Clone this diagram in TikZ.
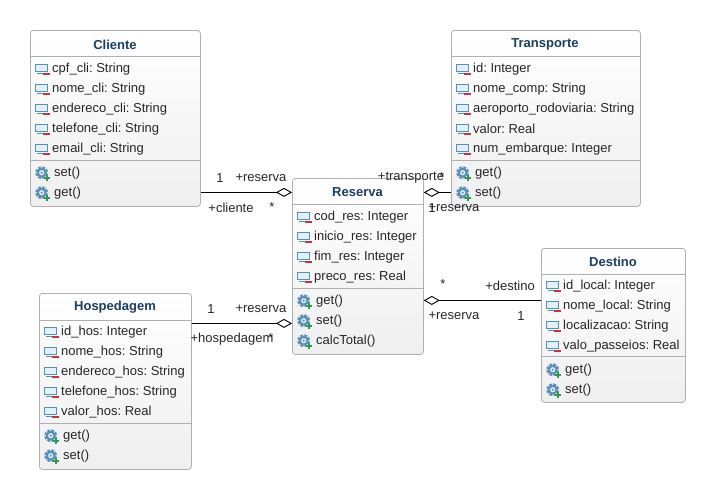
\documentclass[tikz,border=0pt]{standalone}
\usepackage{fontspec}
\setmainfont{Liberation Sans}
\frenchspacing
\usetikzlibrary{arrows.meta,calc}
\definecolor{titleblue}{HTML}{1B3F5F}
\definecolor{boxedge}{HTML}{B0B0B0}
\definecolor{boxlow}{HTML}{EFEFEF}
\definecolor{iconblue}{HTML}{4F93B8}
\definecolor{iconfill}{HTML}{E4F0F7}
\definecolor{minusred}{HTML}{C8323C}
\definecolor{plusgreen}{HTML}{2E9A4E}
\definecolor{geardark}{HTML}{5A8FB8}
\tikzset{
  umlbox/.style={draw=boxedge,line width=0.8pt,rounded corners=3pt,top color=white,bottom color=boxlow,inner sep=0pt,anchor=north west},
  sepline/.style={draw=boxedge,line width=0.8pt},
  titletext/.style={font=\fontsize{13}{13}\selectfont\bfseries,text=titleblue},
  rowtext/.style={font=\fontsize{13}{13}\selectfont,text=black!85,anchor=west,inner sep=0pt},
  assoc/.style={line width=1pt,-{Diamond[open,length=16pt,width=9pt,line width=0.9pt]}},
  rolelabel/.style={font=\fontsize{13}{13}\selectfont,text=black!85,inner sep=0pt},
}
\newcommand{\attrrow}[3]{%
  \draw[iconblue,fill=iconfill,line width=1pt] (#1+2.5,#2-4) rectangle (#1+14.5,#2+3.5);
  \draw[iconblue,line width=1pt] (#1+4,#2+5.2) -- (#1+15,#2+5.2);
  \fill[minusred] (#1+9.5,#2+5) rectangle (#1+17,#2+7.2);
  \node[rowtext] at (#1+19,#2+1) {#3};
}
\newcommand{\methrow}[3]{%
  \fill[geardark] (#1+8.7,#2+0.7) circle (6.4);
  \foreach \a in {0,45,...,315} {\fill[iconfill] (#1+8.7,#2+0.7) ++(\a:5.7) circle (1);}
  \fill[iconfill] (#1+8.7,#2+0.7) circle (2.6);
  \fill[geardark] (#1+8.7,#2+0.7) circle (1.2);
  \fill[plusgreen] (#1+10.5,#2+5) rectangle (#1+17,#2+7.2);
  \fill[plusgreen] (#1+12.65,#2+2.8) rectangle (#1+14.85,#2+9.4);
  \node[rowtext] at (#1+21,#2+1) {#3};
}
\begin{document}
\begin{tikzpicture}[x=1pt,y=-1pt]
\useasboundingbox (0,0) rectangle (715,499);
% Cliente
\node[umlbox,minimum width=170pt,minimum height=176pt] (cliente) at (30,30) {};
\node[titletext] (tcli) at (115,44.5) {Cliente};
\draw[sepline] (30,56) -- (200,56) (30,160) -- (200,160);
\attrrow{33}{68}{cpf\_cli: String}
\attrrow{33}{88}{nome\_cli: String}
\attrrow{33}{108}{endereco\_cli: String}
\attrrow{33}{128}{telefone\_cli: String}
\attrrow{33}{148}{email\_cli: String}
\methrow{33}{172}{set()}
\methrow{33}{192}{get()}
% Transporte
\node[umlbox,minimum width=189pt,minimum height=176pt] (transporte) at (451,30) {};
\node[titletext] (ttra) at (545,44.5) {Transporte};
\draw[sepline] (451,56) -- (640,56) (451,160) -- (640,160);
\attrrow{454}{68}{id: Integer}
\attrrow{454}{88}{nome\_comp: String}
\attrrow{454}{108}{aeroporto\_rodoviaria: String}
\attrrow{454}{128}{valor: Real}
\attrrow{454}{148}{num\_embarque: Integer}
\methrow{454}{172}{get()}
\methrow{454}{192}{set()}
% Reserva
\node[umlbox,minimum width=131pt,minimum height=176pt] (reserva) at (292,178) {};
\node[titletext] (tres) at (357.5,192.5) {Reserva};
\draw[sepline] (292,204) -- (423,204) (292,288) -- (423,288);
\attrrow{295}{216}{cod\_res: Integer}
\attrrow{295}{236}{inicio\_res: Integer}
\attrrow{295}{256}{fim\_res: Integer}
\attrrow{295}{276}{preco\_res: Real}
\methrow{295}{300}{get()}
\methrow{295}{320}{set()}
\methrow{295}{340}{calcTotal()}
% Hospedagem
\node[umlbox,minimum width=152pt,minimum height=176pt] (hospedagem) at (39,293) {};
\node[titletext] (thos) at (115,307.5) {Hospedagem};
\draw[sepline] (39,320) -- (191,320) (39,423) -- (191,423);
\attrrow{42}{331}{id\_hos: Integer}
\attrrow{42}{351}{nome\_hos: String}
\attrrow{42}{371}{endereco\_hos: String}
\attrrow{42}{391}{telefone\_hos: String}
\attrrow{42}{411}{valor\_hos: Real}
\methrow{42}{435}{get()}
\methrow{42}{455}{set()}
% Destino
\node[umlbox,minimum width=144pt,minimum height=154pt] (destino) at (541,248) {};
\node[titletext] (tdes) at (613,262) {Destino};
\draw[sepline] (541,274) -- (685,274) (541,356) -- (685,356);
\attrrow{544}{285}{id\_local: Integer}
\attrrow{544}{305}{nome\_local: String}
\attrrow{544}{325}{localizacao: String}
\attrrow{544}{345}{valo\_passeios: Real}
\methrow{544}{369}{get()}
\methrow{544}{389}{set()}
% Connectors
\draw[assoc] ([yshift=-74pt]cliente.east) -- ([yshift=74pt]reserva.west);
\draw[assoc] ([yshift=-74pt]transporte.west) -- ([yshift=74pt]reserva.east);
\draw[assoc] ([yshift=58pt]hospedagem.east) -- ([yshift=-57pt]reserva.west);
\draw[assoc] ([yshift=25pt]destino.west) -- ([yshift=-34pt]reserva.east);
% Labels
\node[rolelabel] (l1) at (220,178) {1};
\node[rolelabel] (l2) at (261,178) {+reserva};
\node[rolelabel] (l3) at (231,208) {+cliente};
\node[rolelabel] (l4) at (272,207) {*};
\node[rolelabel] (l5) at (411,178) {+transporte};
\node[rolelabel] (l6) at (442,177) {*};
\node[rolelabel] (l7) at (432,208) {1};
\node[rolelabel] (l8) at (454,208) {+reserva};
\node[rolelabel] (l9) at (211,309) {1};
\node[rolelabel] (l10) at (261,309) {+reserva};
\node[rolelabel] (l11) at (232,339) {+hospedagem};
\node[rolelabel] (l12) at (271,338) {*};
\node[rolelabel] (l13) at (443,284) {*};
\node[rolelabel] (l14) at (510,286) {+destino};
\node[rolelabel] (l15) at (454,316) {+reserva};
\node[rolelabel] (l16) at (521,316) {1};
\end{tikzpicture}
\end{document}
